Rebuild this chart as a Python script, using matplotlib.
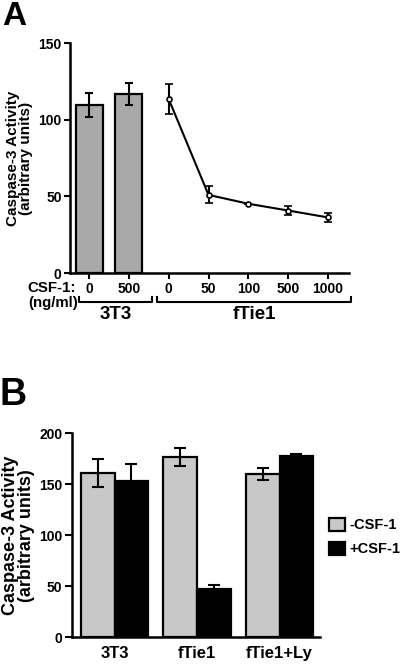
import matplotlib.pyplot as plt
import numpy as np

plt.rcParams['font.family'] = ['Liberation Sans', 'DejaVu Sans']
plt.rcParams['font.weight'] = 'bold'
plt.rcParams['axes.labelweight'] = 'bold'

# Panel A data
a_bar_labels = ['0', '500']
a_bar_vals = [109.5, 116.8]
a_bar_err = [8.0, 7.0]
a_line_labels = ['0', '50', '100', '500', '1000']
a_line_vals = [113.5, 51.0, 45.2, 40.8, 36.3]
a_line_err = [10.0, 5.5, 0.0, 3.0, 3.0]

# Panel B data
b_groups = ['3T3', 'fTie1', 'fTie1+Ly']
b_minus = [161.0, 177.0, 160.0]
b_minus_err = [13.5, 9.0, 6.0]
b_plus = [153.5, 47.0, 177.5]
b_plus_err = [16.0, 4.0, 2.5]

fig = plt.figure(figsize=(4.0, 6.66), dpi=100)

# ---------- Panel A ----------
axA = fig.add_axes([0.175, 0.590, 0.6975, 0.3453])
xb = np.arange(len(a_bar_vals))
xl = np.arange(len(a_line_vals)) + len(a_bar_vals)
axA.bar(xb, a_bar_vals, width=0.68, color='#a9a9a9', edgecolor='black', linewidth=1.6)
axA.errorbar(xb, a_bar_vals, yerr=a_bar_err, fmt='none', ecolor='black',
             elinewidth=1.5, capsize=2.6, capthick=1.5)
axA.errorbar(xl, a_line_vals, yerr=a_line_err, fmt='-o', color='black', lw=1.5,
             ms=3.6, mfc='white', mec='black', mew=1.2, elinewidth=1.5,
             capsize=2.6, capthick=1.5)
axA.set_xlim(-0.48, 6.53)
axA.set_ylim(0, 150)
axA.set_yticks([0, 50, 100, 150])
axA.set_xticks(list(xb) + list(xl))
axA.set_xticklabels(a_bar_labels + a_line_labels)
axA.tick_params(axis='both', labelsize=10, width=1.5, length=4)
axA.tick_params(axis='x', pad=2.5)
axA.tick_params(axis='y', pad=2)
for s in ['top', 'right']:
    axA.spines[s].set_visible(False)
for s in ['left', 'bottom']:
    axA.spines[s].set_linewidth(1.8)
axA.set_ylabel('Caspase-3 Activity\n(arbitrary units)', fontsize=11, labelpad=4,
               linespacing=0.9)

# brackets under the x axis
trans = axA.get_xaxis_transform()
def bracket(x0, x1, label):
    yb, yt = -0.128, -0.105
    axA.plot([x0, x0, x1, x1], [yt, yb, yb, yt], color='black', lw=1.5,
             transform=trans, clip_on=False)
    axA.text((x0 + x1) / 2, -0.142, label, transform=trans, ha='center', va='top',
             fontsize=13.5)
bracket(xb[0] - 0.25, xb[-1] + 0.58, '3T3')
bracket(xl[0] - 0.3, xl[-1] + 0.58, 'fTie1')
fig.text(0.19, 1 - 288.5 / 666, 'CSF-1:', ha='right', va='center', fontsize=10.8)
fig.text(0.195, 1 - 302.5 / 666, '(ng/ml)', ha='right', va='center', fontsize=10.8)
fig.text(0.005, 0.998, 'A', ha='left', va='top', fontsize=24)

# ---------- Panel B ----------
axB = fig.add_axes([0.18, 0.0431, 0.62, 0.3063])
xg = np.arange(len(b_groups))
w = 0.41
axB.bar(xg - w / 2, b_minus, width=w, color='#c8c8c8', edgecolor='black', linewidth=1.6,
        label='-CSF-1')
axB.bar(xg + w / 2, b_plus, width=w, color='black', edgecolor='black', linewidth=1.6,
        label='+CSF-1')
axB.errorbar(xg - w / 2, b_minus, yerr=b_minus_err, fmt='none', ecolor='black',
             elinewidth=1.5, capsize=4.5, capthick=1.5)
axB.errorbar(xg + w / 2, b_plus, yerr=b_plus_err, fmt='none', ecolor='black',
             elinewidth=1.5, capsize=4.5, capthick=1.5)
axB.set_xlim(-0.515, 2.49)
axB.set_ylim(0, 200)
axB.set_yticks([0, 50, 100, 150, 200])
axB.set_xticks(xg)
axB.set_xticklabels(b_groups)
axB.tick_params(axis='y', labelsize=10, width=1.5, length=5, pad=2)
axB.tick_params(axis='x', labelsize=12, length=0, pad=6)
for s in ['top', 'right']:
    axB.spines[s].set_visible(False)
for s in ['left', 'bottom']:
    axB.spines[s].set_linewidth(1.8)
axB.set_ylabel('Caspase-3 Activity\n(arbitrary units)', fontsize=13, labelpad=3,
               linespacing=0.9)
axB.legend(loc='center left', bbox_to_anchor=(329 / 400, 1 - 537 / 666),
           bbox_transform=fig.transFigure, frameon=False, fontsize=10.5,
           handlelength=1.1, handleheight=1.05, handletextpad=0.3, labelspacing=0.65,
           borderaxespad=0, borderpad=0)
fig.text(0.0, 1 - 377 / 666, 'B', ha='left', va='top', fontsize=27)

fig.savefig('out.png', dpi=100)
